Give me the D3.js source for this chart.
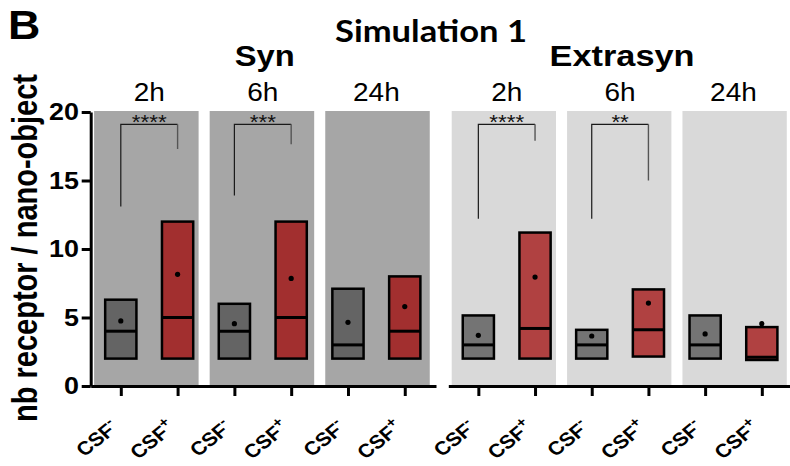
<!DOCTYPE html>
<html>
<head>
<meta charset="utf-8">
<script src="https://cdn.jsdelivr.net/npm/d3@7"></script>
<style>
  body { margin: 0; background: #fff; }
  text { font-family: "Liberation Sans", Arial, sans-serif; }
</style>
</head>
<body>
<div id="chart"></div>
<script>
var width = 790,
    height = 466;

var groups = ["Syn", "Extrasyn"];
var times = ["2h", "6h", "24h"];
var conditions = ["CSF-", "CSF+"];
var yTicks = [0, 5, 10, 15, 20];

// box order: 2h CSF-, 2h CSF+, 6h CSF-, 6h CSF+, 24h CSF-, 24h CSF+
var synLow    = [2, 2, 2, 2, 2, 2];
var synMedian = [4, 5, 4, 5, 3, 4];
var synHigh   = [6.3, 12, 6, 12, 7.1, 8];
var synMean   = [4.75, 8.15, 4.55, 7.85, 4.65, 5.8];

var extraLow    = [2, 2, 2, 2.15, 2, 1.9];
var extraMedian = [3, 4.2, 3, 4.1, 3, 2.1];
var extraHigh   = [5.15, 11.2, 4.1, 7.05, 5.15, 4.3];
var extraMean   = [3.7, 7.95, 3.65, 6.05, 3.8, 4.55];

// significance brackets, one per time point
var bracketTop = 19.1;
var synStars = ["****", "***", ""];
var synLeftEnd = [13.1, 13.9, null];
var synRightEnd = [17.3, 17.65, null];
var extraStars = ["****", "**", ""];
var extraLeftEnd = [12.2, 12.2, null];
var extraRightEnd = [17.9, 15.0, null];

var SX = 1.12; // text in the figure is a bit wider than normal

var svg = d3.select("#chart").append("svg")
    .attr("width", width)
    .attr("height", height);

var y = d3.scaleLinear().domain([0, 20]).range([386, 112]);

var groupData = [
  {name: groups[0], low: synLow, med: synMedian, high: synHigh, mean: synMean,
   stars: synStars, leftEnd: synLeftEnd, rightEnd: synRightEnd},
  {name: groups[1], low: extraLow, med: extraMedian, high: extraHigh, mean: extraMean,
   stars: extraStars, leftEnd: extraLeftEnd, rightEnd: extraRightEnd}
];
var groupRange = [[90.7, 436], [448.3, 793]];
var panelFill = ["#a6a6a6", "#d9d9d9"];
var boxFill = [["#646464", "#a22f2f"], ["#747474", "#b04141"]];
var nameWidth = [60, 145];

function stretchText(sel, x, yy, str) {
  return sel.append("text")
    .attr("transform", "translate(" + x + "," + yy + ") scale(" + SX + ",1)")
    .text(str);
}

// panel letter and titles
stretchText(svg, 8, 39, "B")
  .attr("font-size", 40).attr("font-weight", "bold");

svg.append("text")
  .attr("x", 335).attr("y", 42)
  .attr("textLength", 192).attr("lengthAdjust", "spacingAndGlyphs")
  .style("font-family", "Lato, 'Open Sans', sans-serif")
  .attr("font-size", 31).attr("font-weight", "bold")
  .text("Simulation 1");

groupData.forEach(function(gd, gi) {
  var x = d3.scaleLinear().domain([-0.53, 5.55]).range(groupRange[gi]);
  var g = svg.append("g");

  // shaded panels
  times.forEach(function(t, ti) {
    var x0 = x(-0.47 + 2.035 * ti), x1 = x(-0.47 + 2.035 * ti + 1.84);
    g.append("rect")
      .attr("x", x0).attr("y", y(20) - 1)
      .attr("width", x1 - x0).attr("height", y(0) - y(20) + 1)
      .attr("fill", panelFill[gi]);

    stretchText(g, x(0.5 + 2 * ti), 101, t)
      .attr("text-anchor", "middle")
      .attr("font-size", 25);
  });

  g.append("text")
    .attr("x", x(2.5) + 2 - nameWidth[gi] / 2).attr("y", 66)
    .attr("textLength", nameWidth[gi]).attr("lengthAdjust", "spacingAndGlyphs")
    .attr("font-size", 30).attr("font-weight", "bold")
    .text(gd.name);

  // boxes
  var bw = x(0.55) - x(0);
  d3.range(6).forEach(function(i) {
    var cx = x(i);
    g.append("rect")
      .attr("x", cx - bw / 2).attr("y", y(gd.high[i]))
      .attr("width", bw).attr("height", y(gd.low[i]) - y(gd.high[i]))
      .attr("fill", boxFill[gi][i % 2])
      .attr("stroke", "#000").attr("stroke-width", 2.5);
    g.append("line")
      .attr("x1", cx - bw / 2).attr("x2", cx + bw / 2)
      .attr("y1", y(gd.med[i])).attr("y2", y(gd.med[i]))
      .attr("stroke", "#000").attr("stroke-width", 3);
    g.append("circle")
      .attr("cx", cx).attr("cy", y(gd.mean[i])).attr("r", 2.6)
      .attr("fill", "#000");
  });

  // significance brackets
  gd.stars.forEach(function(s, ti) {
    if (!s) return;
    var xl = x(2 * ti), xr = x(2 * ti + 1);
    g.append("path")
      .attr("d", "M" + xl + "," + y(gd.leftEnd[ti]) + "V" + y(bracketTop) + "H" + xr)
      .attr("fill", "none").attr("stroke", "#1a1a1a").attr("stroke-width", 1.2);
    g.append("line")
      .attr("x1", xr).attr("x2", xr)
      .attr("y1", y(bracketTop)).attr("y2", y(gd.rightEnd[ti]))
      .attr("stroke", "#555").attr("stroke-width", 1.4);
    stretchText(g, (xl + xr) / 2, y(bracketTop) + 5, s)
      .attr("text-anchor", "middle")
      .attr("font-size", 20).attr("fill", "#111");
  });

  // x axis
  var xAxis = d3.axisBottom(x)
    .tickValues(d3.range(6))
    .tickFormat("")
    .tickSize(10)
    .tickSizeOuter(0);
  var ax = g.append("g")
    .attr("transform", "translate(0," + y(0) + ")")
    .call(xAxis);
  ax.selectAll("path, line").attr("stroke", "#000").attr("stroke-width", 3);

  // tilted condition labels: "CSF" plus a small raised sign, both start-anchored
  d3.range(6).forEach(function(i) {
    var cond = conditions[i % 2];
    var tr = "translate(" + (x(i) - 1) + ",429) scale(" + SX + ",1) rotate(-42)";
    var main = g.append("text")
      .attr("transform", tr)
      .attr("font-size", 19).attr("font-weight", "bold")
      .text(cond.slice(0, 3));
    var sup = g.append("text")
      .attr("transform", tr)
      .attr("y", -8)
      .attr("font-size", 14).attr("font-weight", "bold")
      .text(cond.slice(3));
    var mw = main.node().getComputedTextLength(),
        sw = sup.node().getComputedTextLength();
    main.attr("x", -(mw + sw));
    sup.attr("x", -sw);
  });
});

// y axis
var yAxis = d3.axisLeft(y)
  .tickValues(yTicks)
  .tickSize(9)
  .tickPadding(1.5)
  .tickSizeOuter(0);
var yg = svg.append("g")
  .attr("transform", "translate(90.7,0)")
  .call(yAxis);
yg.selectAll("path, line").attr("stroke", "#000").attr("stroke-width", 3);
yg.selectAll("text")
  .attr("transform", "scale(" + SX + ",1)")
  .attr("x", -10.5)
  .attr("fill", "#000")
  .style("font-family", "'Liberation Sans', Arial, sans-serif")
  .attr("font-size", 24).attr("font-weight", "bold");

svg.append("text")
  .attr("transform", "translate(37,248) scale(1.2,1) rotate(-90)")
  .attr("text-anchor", "middle")
  .attr("font-size", 29).attr("font-weight", "bold")
  .text("nb receptor / nano-object");
</script>
</body>
</html>
